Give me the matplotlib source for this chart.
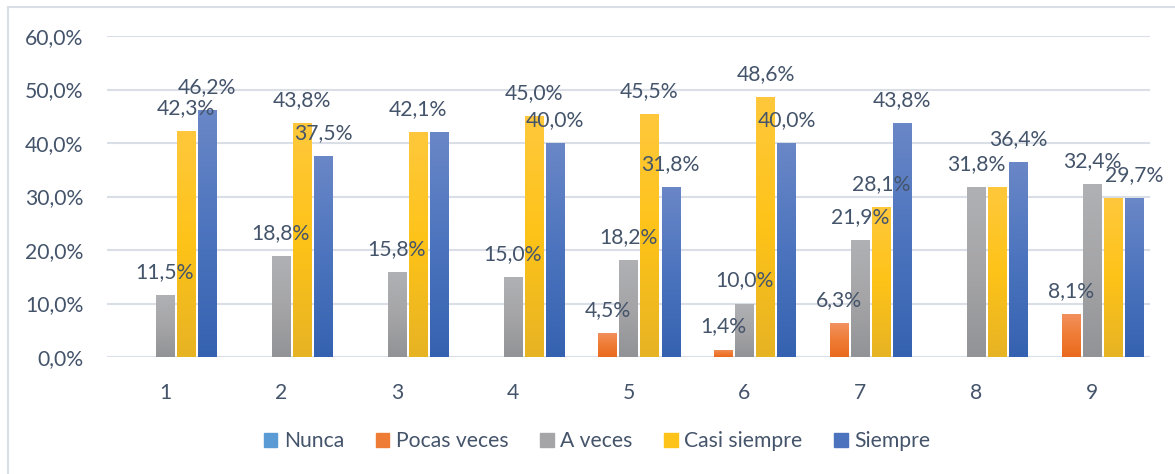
import numpy as np
import matplotlib
matplotlib.use("Agg")
import matplotlib.pyplot as plt
from matplotlib.colors import LinearSegmentedColormap
from matplotlib.patches import Rectangle

categories = ["1", "2", "3", "4", "5", "6", "7", "8", "9"]
series_names = ["Nunca", "Pocas veces", "A veces", "Casi siempre", "Siempre"]
nunca = [0, 0, 0, 0, 0, 0, 0, 0, 0]
pocas_veces = [0, 0, 0, 0, 4.5, 1.4, 6.3, 0, 8.1]
a_veces = [11.5, 18.8, 15.8, 15.0, 18.2, 10.0, 21.9, 31.8, 32.4]
casi_siempre = [42.3, 43.8, 42.1, 45.0, 45.5, 48.6, 28.1, 31.8, 29.7]
siempre = [46.2, 37.5, 42.1, 40.0, 31.8, 40.0, 43.8, 36.4, 29.7]
# labels not shown in the reference (category index, series index)
hidden_labels = [(2, 4), (7, 3), (8, 3)]
yticks = [0, 10, 20, 30, 40, 50, 60]

series = [nunca, pocas_veces, a_veces, casi_siempre, siempre]
# (top, middle, bottom) gradient colours
grads = [
    ("#74A9DC", "#5B9BD5", "#3F86C6"),
    ("#F29260", "#EF7C35", "#EA6A1E"),
    ("#B0B1B4", "#A5A5A8", "#929396"),
    ("#FFC83C", "#FEC318", "#E6B324"),
    ("#6A87C7", "#4C74BE", "#3562B0"),
]
text_color = "#44546A"
grid_color = "#D9DEE7"

plt.rcParams['font.family'] = ['Lato', 'DejaVu Sans']
fs = 15.2

fig = plt.figure(figsize=(11.75, 4.74), dpi=100)
ax = fig.add_axes([107/1175, 1-357/474, (1150-107)/1175, (357-36)/474])

pitch = 0.1815
width = 0.156
x = np.arange(len(categories))
for j, vals in enumerate(series):
    cmap = LinearSegmentedColormap.from_list(f"g{j}", [grads[j][2], grads[j][1], grads[j][0]])
    offs = (j - 2) * pitch
    bars = ax.bar(x + offs, vals, width=width, color=grads[j][1], linewidth=0, zorder=2,
                  label=series_names[j])
    for i, (b, v) in enumerate(zip(bars, vals)):
        if v <= 0:
            continue
        grad = np.linspace(0, 1, 256).reshape(-1, 1)
        im = ax.imshow(grad, extent=[b.get_x(), b.get_x() + b.get_width(), 0, v],
                       origin='lower', aspect='auto', cmap=cmap, zorder=3)
        im.set_clip_path(b)
        if (i, j) in hidden_labels:
            continue
        ax.annotate(f"{v:.1f}%".replace(".", ","), (b.get_x() + b.get_width()/2, v),
                    xytext=(0, 16.5), textcoords='offset points', ha='center', va='center',
                    fontsize=fs, color=text_color, zorder=5)

ax.set_xlim(-0.5, len(categories) - 0.5)
ax.set_ylim(0, 60)
ax.set_yticks(yticks)
ax.set_yticklabels([f"{t:.1f}%".replace(".", ",") for t in yticks])
ax.set_xticks(x)
ax.set_xticklabels(categories)
ax.tick_params(axis='both', length=0, labelsize=fs, colors=text_color)
ax.tick_params(axis='y', pad=17)
ax.tick_params(axis='x', pad=19)
ax.grid(axis='y', color=grid_color, linewidth=1.5, zorder=0)
ax.set_axisbelow(True)
for s in ax.spines.values():
    s.set_visible(False)

handles = [Rectangle((0, 0), 1, 1, color=grads[j][1]) for j in range(5)]
leg = fig.legend(handles, series_names, loc='center', bbox_to_anchor=(597/1175, 1-441/474),
                 ncol=5, frameon=False, fontsize=fs, handlelength=0.65, handleheight=0.65,
                 handletextpad=0.3, columnspacing=1.5, labelcolor=text_color)

# outer chart border
fig.add_artist(Rectangle((8/1175, -0.1), 1.2, 1 - 7/474 + 0.1, transform=fig.transFigure,
                         fill=False, edgecolor="#D9DEE7", linewidth=1.5))

fig.savefig("out.png", dpi=100)
